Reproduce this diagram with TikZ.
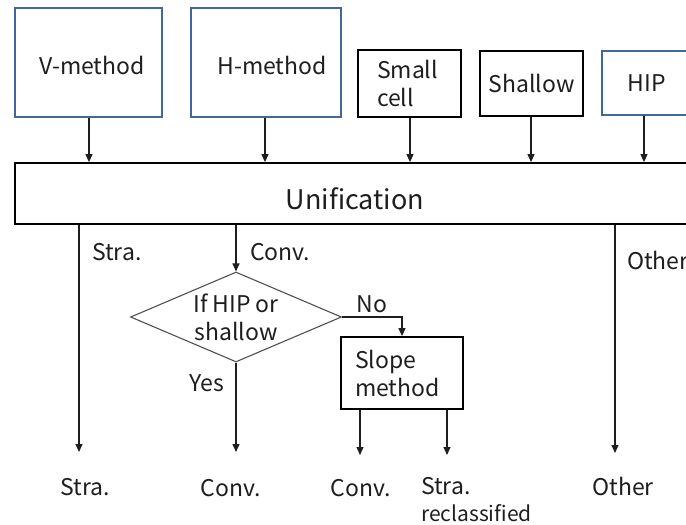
\documentclass[tikz,border=0pt]{standalone}
\usepackage{fontspec}
\setmainfont{Noto Sans CJK JP}
\usetikzlibrary{shapes.geometric,arrows.meta}
\definecolor{boxblue}{HTML}{41679E}
\definecolor{ink}{HTML}{1E1E1E}
\definecolor{diagray}{HTML}{505050}
\begin{document}
\begin{tikzpicture}[x=1pt,y=-1pt,
  lbl/.style={font=\fontsize{23}{28}\selectfont, text=ink, inner sep=0pt},
  bluebox/.style={draw=boxblue, line width=1.6pt, lbl, inner sep=0pt},
  blackbox/.style={draw=black, line width=1.8pt, lbl, inner sep=0pt},
  arr/.style={draw=ink, line width=1.1pt, -{Triangle[length=8pt,width=7pt]}}
]
\useasboundingbox (0,0) rectangle (686,525);
\clip (0,0) rectangle (686,525);

% source methods
\node[bluebox, minimum width=147, minimum height=109] (V) at (88.5,62.5) {};
\node[lbl] (Vt) at (92,65) {V-method};
\node[bluebox, minimum width=150, minimum height=109] (H) at (266,62.5) {};
\node[lbl] (Ht) at (272,65) {H-method};
\node[blackbox, minimum width=103, minimum height=67, align=left, text width=65] (SC) at (409.5,83.5) {Small\\cell};
\node[blackbox, minimum width=103, minimum height=65] (SH) at (531.5,83.5) {Shallow};
\node[bluebox, minimum width=90, minimum height=64] (HIP) at (647,83) {HIP};

% unification bar (outline and its text)
\node[blackbox, minimum width=680, minimum height=61] (U) at (355,193.5) {};
\node[lbl, font=\fontsize{27}{30}\selectfont] (Ut) at (355,199) {Unification};

\draw[arr] (V.south -| 89,0) -- (U.north -| 89,0);
\draw[arr] (H.south -| 265,0) -- (U.north -| 265,0);
\draw[arr] (SC.south -| 410,0) -- (U.north -| 410,0);
\draw[arr] (SH.south -| 531,0) -- (U.north -| 531,0);
\draw[arr] (HIP.south -| 644,0) -- (U.north -| 644,0);

% decision (outline and its text) and slope test
\node[draw=diagray, line width=1.1pt, diamond, inner sep=0pt, minimum width=211, minimum height=90] (D) at (236,317) {};
\node[lbl, align=center] (Dt) at (D.center) {If HIP or\\shallow};
\node[blackbox, minimum width=122, minimum height=72, align=left, text width=94] (SL) at (402,373) {Slope\\method};

% end points of the branches
\coordinate (eS) at (79,452);
\coordinate (eY) at (236,452);
\coordinate (eC) at (360,455);
\coordinate (eR) at (447,455);
\coordinate (eO) at (615,453);

\draw[arr] (U.south -| eS) -- (eS);
\draw[arr] (U.south -| D.north) -- (D.north);
\draw[arr] (D.south) -- (eY);
\draw[arr] (D.east) -- (D.east -| SL.north) -- (SL.north);
\draw[arr] (SL.south -| eC) -- (eC);
\draw[arr] (SL.south -| eR) -- (eR);
\draw[arr] (U.south -| eO) -- (eO);

% branch labels
\node[lbl, anchor=west] (lS) at (92,252) {Stra.};
\node[lbl, anchor=west] (lC) at (250,252) {Conv.};
\node[lbl] (lY) at (207,383) {Yes};
\node[lbl] (lN) at (372,304) {No};
\node[lbl, anchor=west] (lO) at (627,260) {Other};

% outcomes
\node[lbl] (oS) at (85,487) {Stra.};
\node[lbl] (oC1) at (231,488) {Conv.};
\node[lbl] (oC2) at (361,488) {Conv.};
\node[lbl, anchor=west] (oR) at (421,486) {Stra.};
\node[lbl, anchor=west, font=\fontsize{21}{24}\selectfont] (oR2) at (421,513) {reclassified};
\node[lbl] (oO) at (623,486) {Other};
\end{tikzpicture}
\end{document}
